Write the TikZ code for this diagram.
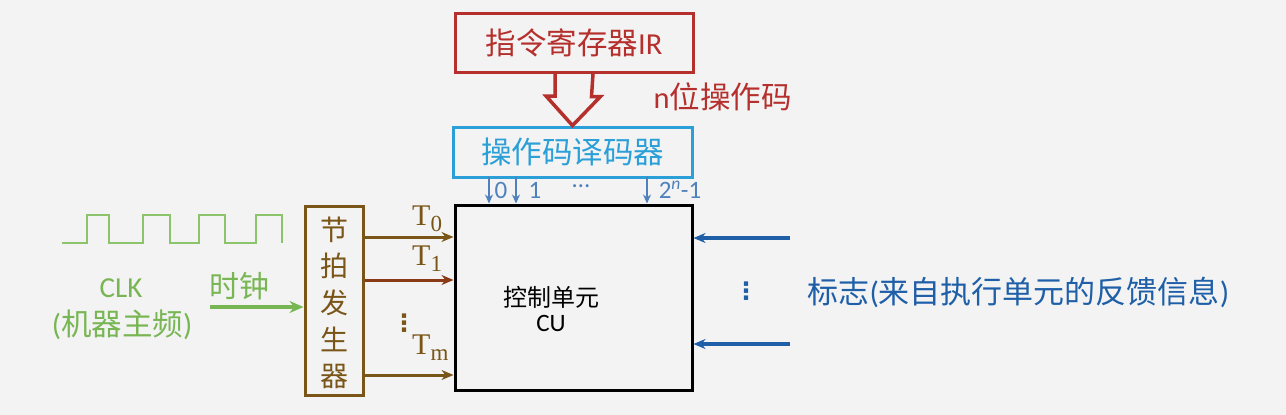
\documentclass[tikz,border=0pt]{standalone}
\usepackage{fontspec}
\setmainfont{Carlito}
\newfontfamily\cjk{Noto Sans CJK SC}
\newfontfamily\tms{Liberation Serif}
\newfontfamily\dvs{DejaVu Sans}
\usetikzlibrary{arrows.meta}
\definecolor{irred}{HTML}{B5302C}
\definecolor{decblue}{HTML}{2A9FD8}
\definecolor{brn}{HTML}{7A5518}
\definecolor{brnred}{HTML}{8A3A14}
\definecolor{clkgreen}{HTML}{8CC46C}
\definecolor{txtgreen}{HTML}{78B653}
\definecolor{flagblue}{HTML}{1F5FA8}
\definecolor{steel}{HTML}{4F81BD}
\definecolor{bg}{HTML}{F3F3F3}
\tikzset{
  box/.style={draw, line width=3pt, inner sep=0pt},
  sig/.style={line width=3pt, -{Stealth[length=12pt,width=10pt]}},
  small/.style={line width=1.6pt, -{Stealth[length=9pt,width=8pt]}},
  tlab/.style={text=brn, font=\tms\fontsize{30}{32}\selectfont, anchor=base west, inner sep=0pt},
  vd/.style={font=\dvs\bfseries\fontsize{24}{26}\selectfont, inner sep=0pt},
}
\newcommand{\tsub}[1]{\raisebox{-6pt}{\fontsize{23}{24}\selectfont #1}}
\begin{document}
\begin{tikzpicture}[x=1pt,y=-1pt]
\fill[bg] (0,0) rectangle (1286,415);
\useasboundingbox (0,0) rectangle (1286,415);
% instruction register
\node[box, draw=irred, minimum width=238pt, minimum height=59pt, text=irred, font=\fontsize{30.5}{32}\selectfont] (ir) at (574,43) {{\cjk 指令寄存器}IR};
% decoder
\node[box, draw=decblue, minimum width=239pt, minimum height=50pt, text=decblue, font=\cjk\fontsize{30.5}{32}\selectfont] (dec) at (572.5,152) {操作码译码器};
% hollow arrow
\draw[irred, line width=3.5pt, fill=bg, line join=miter, miter limit=4]
  ([xshift=-19pt]ir.south) -- ++(0,22) -- ++(-9,0) -- (dec.north) -- ++(28,-29) -- ++(-9,0) -- ([xshift=19pt]ir.south);
\node[text=irred, font=\fontsize{30.5}{32}\selectfont, anchor=west] (nop) at (650,97) {n{\cjk 位操作码}};
% control unit
\node[box, draw=black, line width=3pt, minimum width=237pt, minimum height=185pt] (cu) at (573.5,297.5) {};
\node[font=\cjk\fontsize{24}{26}\selectfont] (cut) at (551,297) {控制单元};
\node[font=\fontsize{25}{26}\selectfont] (cut2) at (551,323) {CU};
% decoder outputs
\coordinate (d0) at (489,177);
\coordinate (d1) at (516,177);
\coordinate (dn) at (647,177);
\draw[steel, small] (d0) -- (d0 |- cu.north);
\draw[steel, small] (d1) -- (d1 |- cu.north);
\draw[steel, small] (dn) -- (dn |- cu.north);
\node[text=steel, font=\fontsize{25}{26}\selectfont] (l0) at (501,190) {0};
\node[text=steel, font=\fontsize{25}{26}\selectfont] (l1) at (535,190) {1};
\node[text=steel, font=\fontsize{25}{26}\selectfont] (ld) at (581,186) {…};
\node[text=steel, font=\fontsize{25}{26}\selectfont] (ln) at (680,190) {2$^{\mathit{n}}$-1};
% beat generator
\node[box, draw=brn, minimum width=58pt, minimum height=189pt] (gen) at (334,300.5) {};
\foreach \c/\y [count=\i] in {节/230,拍/266,发/303,生/339,器/376}
  \node[text=brn, font=\cjk\fontsize{28}{30}\selectfont] (g\i) at (334,\y) {\c};
% T signals
\draw[brn, sig] (gen.east |- 0,237) -- (cu.west |- 0,237);
\draw[brnred, sig] (gen.east |- 0,280) -- (cu.west |- 0,280);
\draw[brn, sig] (gen.east |- 0,375) -- (cu.west |- 0,375);
\node[tlab] (t0) at (412,225) {T\tsub{0}};
\node[tlab] (t1) at (412,265) {T\tsub{1}};
\node[vd, text=brn] (tv) at (404,323) {⋮};
\node[tlab] (tm) at (412,354) {T\tsub{m}};
% clock
\draw[clkgreen, line width=1.8pt] (62,243) -- (87,243) -- (87,215) -- (109,215) -- (109,243)
  -- (143,243) -- (143,215) -- (170,215) -- (170,243)
  -- (199,243) -- (199,215) -- (225,215) -- (225,243)
  -- (256,243) -- (256,215) -- (282,215) -- (282,243);
\node[text=txtgreen, font=\fontsize{29}{30}\selectfont] (clk) at (121,288) {CLK};
\node[text=txtgreen, font=\fontsize{30.5}{32}\selectfont] (clk2) at (122,325) {({\cjk 机器主频})};
\node[text=txtgreen, font=\cjk\fontsize{30}{32}\selectfont] (sz) at (239,286) {时钟};
\coordinate (cin) at (210,307);
\draw[txtgreen, line width=3.5pt, -{Stealth[length=14pt,width=12pt]}] (cin) -- (gen.west |- cin);
% flags
\coordinate (f1) at (790,238);
\coordinate (f2) at (790,344);
\draw[flagblue, sig, line width=3.5pt] (f1) -- (cu.east |- f1);
\draw[flagblue, sig, line width=3.5pt] (f2) -- (cu.east |- f2);
\node[vd, text=flagblue] (fv) at (746,291) {⋮};
\node[text=flagblue, font=\fontsize{31}{32}\selectfont, anchor=west] (flag) at (804,292) {{\cjk 标志}({\cjk 来自执行单元的反馈信息})};
\end{tikzpicture}
\end{document}
